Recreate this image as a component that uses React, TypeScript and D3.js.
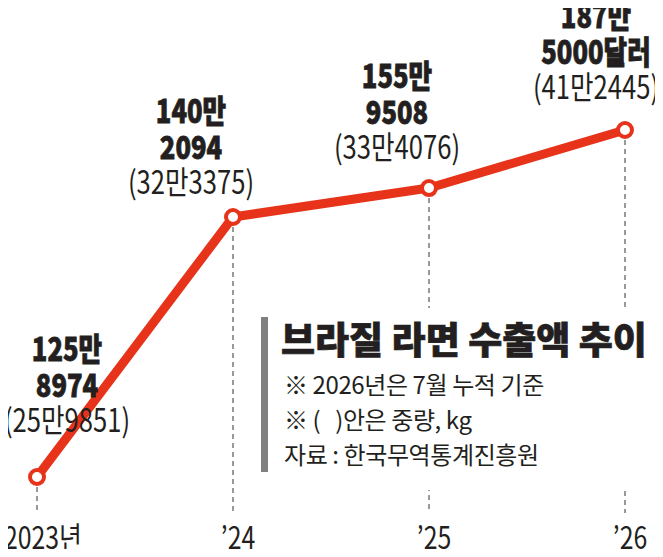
import * as d3 from 'd3';

// 브라질 라면 수출액 추이 (달러), 괄호 안은 중량(kg)
const years = ['2023년', '\u201924', '\u201925', '\u201926'];
const exportUsd = [1258974, 1402094, 1559508, 1875000];
const weightKg = [259851, 323375, 334076, 412445];

const title = '브라질 라면 수출액 추이';
const notes = ['※ 2026년은 7월 누적 기준', '※ (\u00a0\u00a0\u00a0)안은 중량, kg', '자료 : 한국무역통계진흥원'];

// label placement relative to each point (center x offset, first baseline offset)
const labelLayout = [
  { dx: 30, dy: -116 },
  { dx: -42, dy: -94 },
  { dx: -32, dy: -100 },
  { dx: -29, dy: -102 },
];

const width = 663;
const height = 557;
const red = '#e6331a';
const ink = '#231f20';
const font = "'Noto Sans CJK KR', 'Noto Sans', sans-serif";
const squeeze = 'scale(0.8,1)';

const man = (v: number) => `${Math.floor(v / 10000)}만`;
const rest = (v: number) => String(v % 10000).padStart(4, '0');

export default function App() {
  const x = d3.scalePoint<string>().domain(years).range([37, 625]);
  // broken value axis: first step exaggerated like the original graphic
  const y = d3
    .scaleLinear()
    .domain([exportUsd[0], exportUsd[1], exportUsd[3]])
    .range([477, 217, 130]);

  const pts = years.map((yr, i) => ({ yr, i, px: x(yr) as number, py: y(exportUsd[i]) }));
  const line = d3
    .line<(typeof pts)[number]>()
    .x((d) => d.px)
    .y((d) => d.py);

  const axisY = 513;

  return (
    <svg width={width} height={height} style={{ display: 'block', margin: -8, background: '#fff' }} fontFamily={font}>
      {/* dashed drop lines */}
      {pts.map((d) => (
        <line key={'g' + d.i} x1={d.px} x2={d.px} y1={d.py + 10} y2={axisY} stroke="#333" strokeWidth={1} strokeDasharray="5,4" />
      ))}

      {/* legend box (covers drop lines) */}
      <rect x={252} y={308} width={408} height={182} fill="#fff" />
      <rect x={261} y={317} width={7} height={155} fill="#808080" />
      <text x={281} y={354} fontSize={37} fontWeight={900} fill={ink} stroke={ink} strokeWidth={0.7}>
        {title}
      </text>
      {notes.map((t, i) => (
        <text key={t} x={284} y={394 + i * 35} fontSize={24} fill={ink} letterSpacing={-0.4}>
          {t}
        </text>
      ))}

      {/* line + markers */}
      <path d={line(pts) || ''} fill="none" stroke={red} strokeWidth={9} strokeLinejoin="round" />
      {pts.map((d) => (
        <circle key={'c' + d.i} cx={d.px} cy={d.py} r={7} fill="#fff" stroke={red} strokeWidth={4} />
      ))}

      {/* value labels */}
      {pts.map((d) => {
        const L = labelLayout[d.i];
        const cx = d.px + L.dx;
        const by = d.py + L.dy;
        const last = d.i === pts.length - 1;
        return (
          <g key={'l' + d.i} fill={ink} textAnchor="middle">
            <text transform={`translate(${cx},${by}) ${squeeze}`} fontSize={32} fontWeight={900} stroke={ink} strokeWidth={0.8}>
              {man(exportUsd[d.i])}
            </text>
            <text transform={`translate(${cx},${by + 36}) ${squeeze}`} fontSize={32} fontWeight={900} stroke={ink} strokeWidth={0.8}>
              {rest(exportUsd[d.i]) + (last ? '달러' : '')}
            </text>
            <text transform={`translate(${cx},${by + 71}) ${squeeze}`} fontSize={32}>
              {`(${man(weightKg[d.i])}${rest(weightKg[d.i])})`}
            </text>
          </g>
        );
      })}

      {/* x axis labels */}
      {pts.map((d) => (
        <text
          key={'x' + d.i}
          transform={`translate(${d.i === 0 ? d.px + 6 : d.px + 5},549) ${squeeze}`}
          textAnchor="middle"
          fontSize={31}
          fill={ink}
        >
          {d.yr}
        </text>
      ))}
    </svg>
  );
}
